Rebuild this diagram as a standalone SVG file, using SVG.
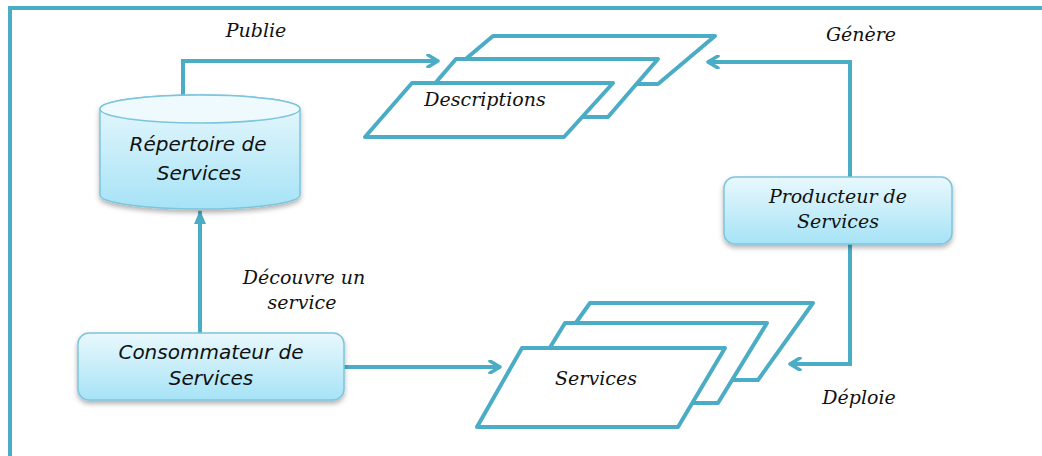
<svg xmlns="http://www.w3.org/2000/svg" width="1042" height="456" viewBox="0 0 1042 456">
<defs>
<linearGradient id="g" x1="0" y1="0" x2="0" y2="1">
<stop offset="0" stop-color="#e9f8fd"/>
<stop offset="1" stop-color="#a6e3f6"/>
</linearGradient>
<filter id="sh" x="-10%" y="-10%" width="120%" height="140%">
<feDropShadow dx="0" dy="3" stdDeviation="2.5" flood-color="#000" flood-opacity="0.3"/>
</filter>
<marker id="open" viewBox="0 0 14 14" refX="12" refY="7" markerWidth="14" markerHeight="14" markerUnits="userSpaceOnUse" orient="auto">
<path d="M2,1 L12,7 L2,13" fill="none" stroke="#4bacc6" stroke-width="3.5" stroke-linecap="round" stroke-linejoin="round"/>
</marker>
<marker id="tri" viewBox="0 0 14 12" refX="13" refY="6" markerWidth="14" markerHeight="12" markerUnits="userSpaceOnUse" orient="auto">
<path d="M0,0 L14,6 L0,12 Z" fill="#4bacc6"/>
</marker>
</defs>
<style>
.ln{fill:none;stroke:#4bacc6;stroke-width:4;}
.pg{fill:#fff;stroke:#4bacc6;stroke-width:4;stroke-linejoin:round;}
.box{fill:url(#g);stroke:#7cc5dc;stroke-width:1.5;}
.t{font-family:"DejaVu Serif",serif;font-style:italic;font-size:19px;fill:#111;}
.s{font-family:"DejaVu Sans",sans-serif;font-style:italic;font-size:20px;fill:#111;}
</style>
<rect width="1042" height="456" fill="#fff"/>
<g id="frame">
<path d="M10,456 L10,8 L1042,8" fill="none" stroke="#4bacc6" stroke-width="4"/>
</g>
<g id="connectors">
<path class="ln" d="M183,96 L183,61 L438,61" marker-end="url(#open)"/>
<path class="ln" d="M850,178 L850,62 L708,62" marker-end="url(#open)"/>
<path class="ln" d="M850,244 L850,364 L790,364" marker-end="url(#open)"/>
<path class="ln" d="M200,333 L200,211" marker-end="url(#tri)"/>
<path class="ln" d="M344,367 L500,367" marker-end="url(#open)"/>
</g>
<g id="labels">
<text class="t" x="256" y="37" text-anchor="middle">Publie</text>
<text class="t" x="861" y="41" text-anchor="middle">Génère</text>
<text class="t" x="859" y="404" text-anchor="middle">Déploie</text>
<text class="t" x="304" y="284" text-anchor="middle">Découvre un</text>
<text class="t" x="302" y="309" text-anchor="middle">service</text>
</g>
<g id="repertoire">
<path class="box" filter="url(#sh)" d="M100,109 L100,195 A100,14 0 0 0 300,195 L300,109 A100,14 0 0 0 100,109 Z"/>
<ellipse cx="200" cy="109" rx="100" ry="14" fill="#eefafd" stroke="#7cc5dc" stroke-width="1.5"/>
<text class="s" x="198" y="151" text-anchor="middle">Répertoire de</text>
<text class="s" x="199" y="180" text-anchor="middle">Services</text>
</g>
<g id="descriptions">
<polygon class="pg" points="493,36 715,36 658,84 436,84"/>
<polygon class="pg" points="456,59 658,59 608,117 406,117"/>
<polygon class="pg" points="412,83 613,83 564,137 365,137"/>
<text class="t" x="485" y="106" text-anchor="middle">Descriptions</text>
</g>
<g id="producteur">
<rect class="box" filter="url(#sh)" x="724" y="177" width="228" height="67" rx="11"/>
<text class="t" x="838" y="203" text-anchor="middle">Producteur de</text>
<text class="t" x="838" y="228" text-anchor="middle">Services</text>
</g>
<g id="consommateur">
<rect class="box" filter="url(#sh)" x="78" y="333" width="266" height="67" rx="11"/>
<text class="s" x="211" y="359" text-anchor="middle">Consommateur de</text>
<text class="s" x="211" y="385" text-anchor="middle">Services</text>
</g>
<g id="services">
<polygon class="pg" points="590,303 813,303 758,380 535,380"/>
<polygon class="pg" points="565,323 767,323 718,403 516,403"/>
<polygon class="pg" points="522,348 725,348 678,427 477,427"/>
<text class="t" x="596" y="385" text-anchor="middle">Services</text>
</g>
</svg>
